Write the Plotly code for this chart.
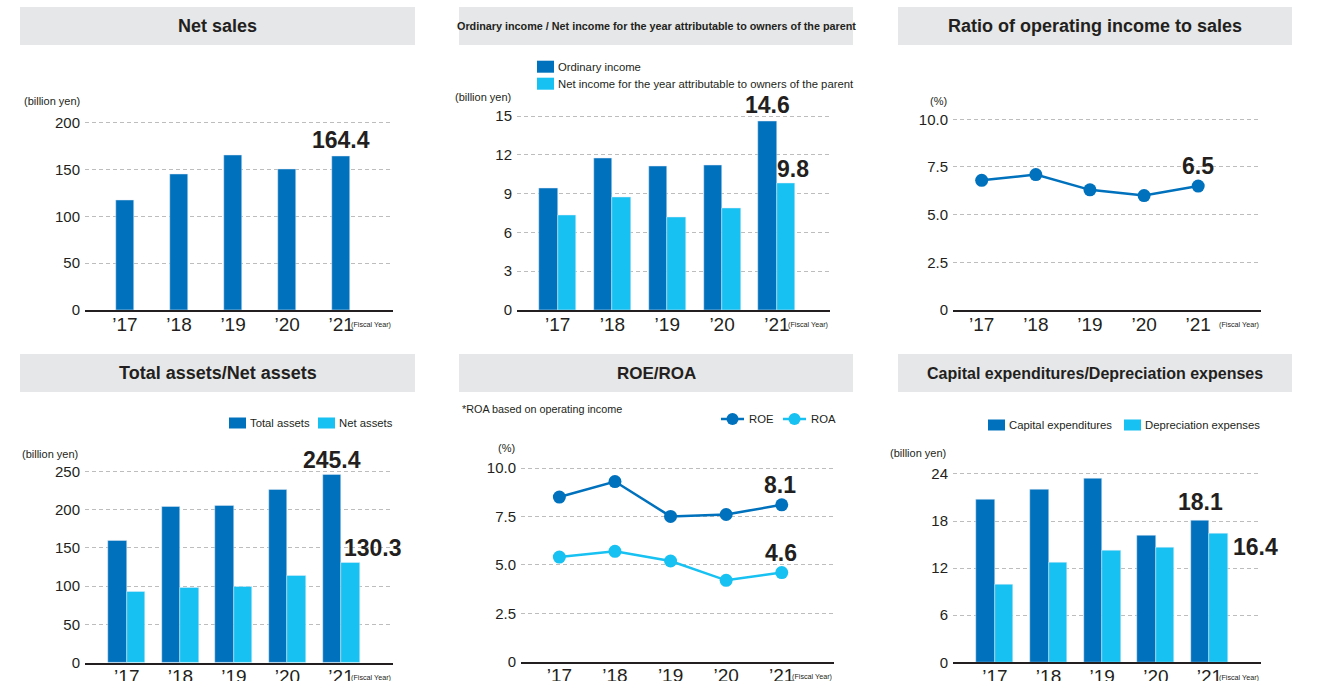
import plotly.graph_objects as go

W, H = 1334, 681

# ---------------- data ----------------
years = ["’17", "’18", "’19", "’20", "’21"]
net_sales = [117.4, 145.1, 165.4, 150.6, 164.4]
ordinary_income = [9.4, 11.7, 11.1, 11.2, 14.6]
net_income = [7.3, 8.7, 7.2, 7.9, 9.8]
op_ratio = [6.8, 7.1, 6.3, 6.0, 6.5]
total_assets = [159.0, 203.6, 204.8, 225.8, 245.4]
net_assets = [92.4, 97.6, 98.9, 113.3, 130.3]
roe = [8.5, 9.3, 7.5, 7.6, 8.1]
roa = [5.4, 5.7, 5.2, 4.2, 4.6]
capex = [20.8, 22.0, 23.4, 16.2, 18.1]
depreciation = [9.9, 12.7, 14.2, 14.6, 16.4]

titles = ["Net sales",
          "Ordinary income / Net income for the year attributable to owners of the parent",
          "Ratio of operating income to sales",
          "Total assets/Net assets",
          "ROE/ROA",
          "Capital expenditures/Depreciation expenses"]

# ---------------- style ----------------
DARK = "#0071bc"
LIGHT = "#17c1f1"
TXT = "#231f20"
GRID = "#bdbdbd"
TITLE_BG = "#e6e7e8"
FONT = "Liberation Sans, Arial, sans-serif"

xidx = list(range(len(years)))

try:
    go.layout.XAxis(ticklabelstandoff=-4)
    XSTAND = -4
except Exception:
    XSTAND = 0


def fx(px):
    return px / W


def fy(py):
    return 1 - py / H


fig = go.Figure()

panels = [
    dict(x0=85, x1=393, yz=310.0, yt=122.7, top=200, xr=[-0.74, 4.96], tv=[0, 50, 100, 150, 200], tt=None),
    dict(x0=517, x1=830, yz=310.0, yt=116.0, top=15, xr=[-0.743, 4.97], tv=[0, 3, 6, 9, 12, 15], tt=None),
    dict(x0=953, x1=1261, yz=310.0, yt=119.3, top=10, xr=[-0.53, 5.16], tv=[0, 2.5, 5, 7.5, 10], tt=["0", "2.5", "5.0", "7.5", "10.0"]),
    dict(x0=85, x1=393, yz=662.7, yt=471.3, top=250, xr=[-0.78, 4.97], tv=[0, 50, 100, 150, 200, 250], tt=None),
    dict(x0=521, x1=834, yz=661.7, yt=468.0, top=10, xr=[-0.69, 4.94], tv=[0, 2.5, 5, 7.5, 10], tt=["0", "2.5", "5.0", "7.5", "10.0"]),
    dict(x0=953, x1=1261, yz=662.3, yt=474.0, top=24, xr=[-0.78, 4.96], tv=[0, 6, 12, 18, 24], tt=None),
]

layout_axes = {}
for i, p in enumerate(panels, start=1):
    scale = (p["yz"] - p["yt"]) / p["top"]
    ext = p["top"] * 1.04
    ytop_px = p["yz"] - ext * scale
    xa = "xaxis" if i == 1 else f"xaxis{i}"
    ya = "yaxis" if i == 1 else f"yaxis{i}"
    layout_axes[xa] = dict(
        domain=[fx(p["x0"]), fx(p["x1"])], anchor=f"y{i}" if i > 1 else "y",
        range=p["xr"], tickvals=xidx, ticktext=years, showgrid=False, zeroline=False,
        showline=True, linecolor=TXT, linewidth=1.5, ticks="", ticklabelstandoff=XSTAND,
        tickfont=dict(family=FONT, size=19, color=TXT), fixedrange=True, automargin=False,
    )
    ya_dict = dict(
        domain=[fy(p["yz"]), fy(ytop_px)], anchor=f"x{i}" if i > 1 else "x",
        range=[0, ext], tickvals=p["tv"], showgrid=True, gridcolor=GRID, griddash="4px,3px",
        gridwidth=1, zeroline=False, showline=False, ticks="",
        tickfont=dict(family=FONT, size=15, color=TXT), ticklabelstandoff=4, fixedrange=True,
        automargin=False,
    )
    if p["tt"]:
        ya_dict["ticktext"] = p["tt"]
    layout_axes[ya] = ya_dict

# ---------------- traces ----------------
fig.add_trace(go.Bar(x=xidx, y=net_sales, marker_color=DARK, width=0.34, xaxis="x", yaxis="y", showlegend=False))

fig.add_trace(go.Bar(x=xidx, y=ordinary_income, marker_color=DARK, width=0.338, offset=-0.338, xaxis="x2", yaxis="y2", showlegend=False))
fig.add_trace(go.Bar(x=xidx, y=net_income, marker_color=LIGHT, width=0.338, offset=0, xaxis="x2", yaxis="y2", showlegend=False))

fig.add_trace(go.Scatter(x=xidx, y=op_ratio, mode="lines+markers", line=dict(color=DARK, width=2.5),
                         marker=dict(size=13, color=DARK), xaxis="x3", yaxis="y3", showlegend=False, cliponaxis=False))

fig.add_trace(go.Bar(x=xidx, y=total_assets, marker_color=DARK, width=0.345, offset=-0.345, xaxis="x4", yaxis="y4", showlegend=False))
fig.add_trace(go.Bar(x=xidx, y=net_assets, marker_color=LIGHT, width=0.345, offset=0, xaxis="x4", yaxis="y4", showlegend=False))

fig.add_trace(go.Scatter(x=xidx, y=roe, mode="lines+markers", line=dict(color=DARK, width=2.5),
                         marker=dict(size=13, color=DARK), xaxis="x5", yaxis="y5", showlegend=False, cliponaxis=False))
fig.add_trace(go.Scatter(x=xidx, y=roa, mode="lines+markers", line=dict(color=LIGHT, width=2.5),
                         marker=dict(size=13, color=LIGHT), xaxis="x5", yaxis="y5", showlegend=False, cliponaxis=False))

fig.add_trace(go.Bar(x=xidx, y=capex, marker_color=DARK, width=0.345, offset=-0.345, xaxis="x6", yaxis="y6", showlegend=False))
fig.add_trace(go.Bar(x=xidx, y=depreciation, marker_color=LIGHT, width=0.345, offset=0, xaxis="x6", yaxis="y6", showlegend=False))

shapes = []
annotations = []

boxes = [(20, 415, 7, 45), (459, 853, 7, 45), (898, 1292, 7, 45),
         (20, 415, 354, 392), (459, 853, 354, 392), (898, 1292, 354, 392)]
title_sizes = [18, 10.8, 18, 18, 17, 16]
for (x0, x1, y0, y1), t, s in zip(boxes, titles, title_sizes):
    shapes.append(dict(type="rect", xref="paper", yref="paper", x0=fx(x0), x1=fx(x1), y0=fy(y1), y1=fy(y0),
                       fillcolor=TITLE_BG, line=dict(width=0), layer="below"))
    annotations.append(dict(text=t, xref="paper", yref="paper", x=fx((x0 + x1) / 2), y=fy((y0 + y1) / 2),
                            xanchor="center", yanchor="middle", showarrow=False,
                            font=dict(family=FONT, size=s, color=TXT, weight="bold")))

units = [("(billion yen)", 82, 101), ("(billion yen)", 513, 97), ("(%)", 949, 101),
         ("(billion yen)", 80, 454), ("(%)", 517, 448), ("(billion yen)", 948, 453)]
for t, xr, yc in units:
    annotations.append(dict(text=t, xref="paper", yref="paper", x=fx(xr), y=fy(yc), xanchor="right",
                            yanchor="middle", showarrow=False, font=dict(family=FONT, size=11, color=TXT)))

for p in panels:
    annotations.append(dict(text="(Fiscal Year)", xref="paper", yref="paper", x=fx(p["x1"]), y=fy(p["yz"] + 15),
                            xanchor="right", yanchor="middle", showarrow=False,
                            font=dict(family=FONT, size=7.2, color=TXT)))

annotations.append(dict(text="*ROA based on operating income", xref="paper", yref="paper", x=fx(460), y=fy(409),
                        xanchor="left", yanchor="middle", showarrow=False,
                        font=dict(family=FONT, size=10.8, color=TXT)))

LEG_SIZE = 11.3


def sq_legend(x0, yc, color, label, w=17, h=12):
    shapes.append(dict(type="rect", xref="paper", yref="paper", x0=fx(x0), x1=fx(x0 + w),
                       y0=fy(yc + h / 2), y1=fy(yc - h / 2), fillcolor=color, line=dict(width=0)))
    annotations.append(dict(text=label, xref="paper", yref="paper", x=fx(x0 + w + 2), y=fy(yc),
                            xanchor="left", yanchor="middle", showarrow=False,
                            font=dict(family=FONT, size=LEG_SIZE, color=TXT)))

sq_legend(537, 66.7, DARK, "Ordinary income")
sq_legend(537, 83.7, LIGHT, "Net income for the year attributable to owners of the parent")
sq_legend(229, 423, DARK, "Total assets", h=11)
sq_legend(318, 423, LIGHT, "Net assets", h=11)
sq_legend(988, 425, DARK, "Capital expenditures", h=11)
sq_legend(1124, 425, LIGHT, "Depreciation expenses", h=11)


def line_legend(x0, x1, yc, color, label):
    shapes.append(dict(type="line", xref="paper", yref="paper", x0=fx(x0), x1=fx(x1), y0=fy(yc), y1=fy(yc),
                       line=dict(color=color, width=2.5)))
    cx = (x0 + x1) / 2
    r = 6
    shapes.append(dict(type="circle", xref="paper", yref="paper", x0=fx(cx - r), x1=fx(cx + r),
                       y0=fy(yc + r), y1=fy(yc - r), fillcolor=color, line=dict(width=0)))
    annotations.append(dict(text=label, xref="paper", yref="paper", x=fx(x1 + 3), y=fy(yc),
                            xanchor="left", yanchor="middle", showarrow=False,
                            font=dict(family=FONT, size=LEG_SIZE, color=TXT)))

line_legend(721, 744, 419, DARK, "ROE")
line_legend(783, 806, 419, LIGHT, "ROA")

VAL_FONT = dict(family=FONT, size=23, color=TXT, weight="bold")


def val(xref, yref, xv, yv, xshift=0, yshift=6, xanchor="center", yanchor="bottom"):
    annotations.append(dict(text=f"{yv:.1f}", xref=xref, yref=yref, x=xv, y=yv, xshift=xshift, yshift=yshift,
                            xanchor=xanchor, yanchor=yanchor, showarrow=False, font=VAL_FONT))

last = len(years) - 1
val("x", "y", xidx[last], net_sales[last], yshift=1)
val("x2", "y2", xidx[last], ordinary_income[last], xshift=-9, yshift=1)
val("x2", "y2", xidx[last], net_income[last], xshift=16, yshift=-1)
val("x3", "y3", xidx[last], op_ratio[last], yshift=5)
val("x4", "y4", xidx[last], total_assets[last], xshift=-9, yshift=0)
val("x4", "y4", xidx[last], net_assets[last], xshift=1, yshift=0, xanchor="left")
val("x5", "y5", xidx[last], roe[last], xshift=-2, yshift=5)
val("x5", "y5", xidx[last], roa[last], xshift=-1, yshift=5)
val("x6", "y6", xidx[last], capex[last], xshift=-9, yshift=3)
val("x6", "y6", xidx[last], depreciation[last], xshift=22, yshift=2, xanchor="left", yanchor="top")

fig.update_layout(
    width=W, height=H, margin=dict(l=0, r=0, t=0, b=0, autoexpand=False),
    paper_bgcolor="white", plot_bgcolor="white",
    shapes=shapes, annotations=annotations, bargap=0, showlegend=False,
    **layout_axes,
)

post = """
var de = document.documentElement, bd = document.body;
de.style.margin='0'; de.style.padding='0'; de.style.overflow='hidden';
bd.style.margin='0'; bd.style.padding='0'; bd.style.overflow='hidden';
"""

fig.write_html("out.html", config={"displayModeBar": False}, post_script=post)
